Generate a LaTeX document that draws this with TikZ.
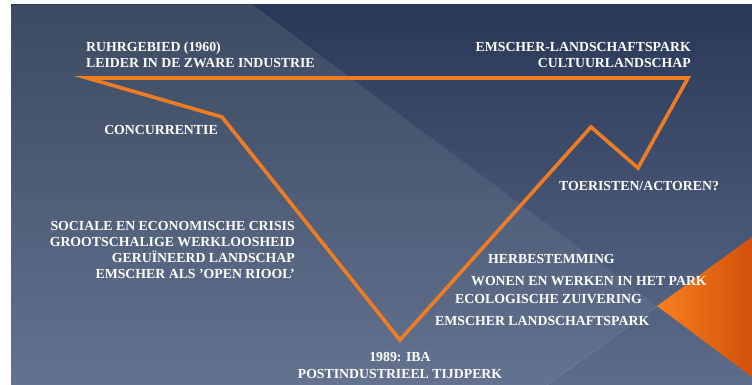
\documentclass[tikz,border=0pt]{standalone}
\usepackage{fontspec}
\setmainfont{Liberation Serif}
\definecolor{bgtopR}{HTML}{2A3858}
\definecolor{bgbotR}{HTML}{5C6C8A}
\definecolor{bgtopL}{HTML}{3C4A62}
\definecolor{bgbotL}{HTML}{62728F}
\definecolor{lineor}{HTML}{EF7B22}
\definecolor{triL}{HTML}{F7801F}
\definecolor{triR}{HTML}{D2500A}
\begin{document}
\begin{tikzpicture}[x=1pt,y=-1pt,
  lbl/.style={text=white, font=\bfseries\fontsize{13.8}{15}\selectfont, inner sep=0pt},
  chart/.style={draw=lineor, line width=3.6pt, line join=miter, line cap=butt}]
\useasboundingbox (0,0) rectangle (752,385);
\fill[white] (0,0) rectangle (752,385);
% background
\shade[top color=bgtopR, bottom color=bgbotR] (11,5) rectangle (752,385);
\shade[top color=bgtopL, bottom color=bgbotL] (11,5) -- (253,5) -- (657,306) -- (547,385) -- (11,385) -- cycle;
\draw[white, opacity=0.12, line width=0.6pt] (657,306) -- (547,385);
% orange triangle
\shade[left color=triL, right color=triR] (657,306) -- (752,237) -- (752,377) -- cycle;
% chart line
\coordinate (p1) at (87,78);
\coordinate (p2) at (688,78);
\coordinate (p3) at (638,168);
\coordinate (p4) at (591,127);
\coordinate (p5) at (400,340);
\coordinate (p6) at (222,117);
\draw[chart] (p1) -- (p2) -- (p3) -- (p4) -- (p5) -- (p6) -- cycle;
% labels
\node[lbl, anchor=base west] (t1) at (86,52) {RUHRGEBIED (1960)};
\node[lbl, anchor=base west] (t2) at (86,68) {LEIDER IN DE ZWARE INDUSTRIE};
\node[lbl, anchor=base east] (t3) at (691,52) {EMSCHER-LANDSCHAFTSPARK};
\node[lbl, anchor=base east] (t4) at (691,68) {CULTUURLANDSCHAP};
\node[lbl, anchor=base] (t5) at (161,135) {CONCURRENTIE};
\node[lbl, anchor=base east] (t6) at (295,230) {SOCIALE EN ECONOMISCHE CRISIS};
\node[lbl, anchor=base east] (t7) at (295,246) {GROOTSCHALIGE WERKLOOSHEID};
\node[lbl, anchor=base east] (t8) at (295,262) {GERUÏNEERD LANDSCHAP};
\node[lbl, anchor=base east] (t9) at (295,278) {EMSCHER ALS 'OPEN RIOOL'};
\node[lbl, anchor=base west] (t10) at (559,190) {TOERISTEN/ACTOREN?};
\node[lbl, anchor=base west] (t11) at (488,263) {HERBESTEMMING};
\node[lbl, anchor=base west] (t12) at (471,285) {WONEN EN WERKEN IN HET PARK};
\node[lbl, anchor=base west] (t13) at (455,303) {ECOLOGISCHE ZUIVERING};
\node[lbl, anchor=base west] (t14) at (435,325) {EMSCHER LANDSCHAFTSPARK};
\node[lbl, anchor=base] (t15) at (400,361) {1989: IBA};
\node[lbl, anchor=base] (t16) at (400,378) {POSTINDUSTRIEEL TIJDPERK};
\end{tikzpicture}
\end{document}
